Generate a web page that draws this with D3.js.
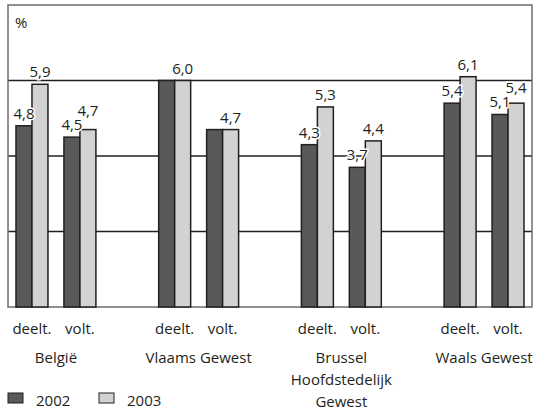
<!DOCTYPE html>
<html>
<head>
<meta charset="utf-8">
<script src="https://cdn.jsdelivr.net/npm/d3@7"></script>
<style>
  body { margin: 0; background: #fff; }
  text { font-family: "Open Sans", "Noto Sans", sans-serif; font-size: 15px; fill: #231f20; }
</style>
</head>
<body>
<div class="chart"></div>
<script>
let groups = [["België"], ["Vlaams Gewest"], ["Brussel", "Hoofdstedelijk", "Gewest"], ["Waals Gewest"]];
let types = ["deelt.", "volt."];
let years = ["2002", "2003"];
let values2002 = [4.8, 4.5, 6.0, 4.7, 4.3, 3.7, 5.4, 5.1];
let values2003 = [5.9, 4.7, 6.0, 4.7, 5.3, 4.4, 6.1, 5.4];
let gridTicks = [2, 4, 6];

let width = 534, height = 409;
let plotLeft = 8, plotRight = 532, plotTop = 5, plotBottom = 307;
let colors = { "2002": "#58595b", "2003": "#d1d2d4" };

let svg = d3.select(".chart").append("svg")
  .attr("width", width)
  .attr("height", height);

let x0 = d3.scaleBand()
  .domain(d3.range(groups.length))
  .range([plotLeft, plotRight])
  .paddingInner(0.44)
  .paddingOuter(0.056);

let x1 = d3.scaleBand()
  .domain(types)
  .range([0, x0.bandwidth()])
  .paddingInner(1 / 3);

let x2 = d3.scaleBand()
  .domain(years)
  .range([0, x1.bandwidth()]);

let y = d3.scaleLinear()
  .domain([0, 8])
  .range([plotBottom, plotTop]);

// flatten the data, one row per pair
let rows = [];
groups.forEach(function(g, gi) {
  types.forEach(function(t, ti) {
    let i = gi * types.length + ti;
    rows.push({ group: gi, type: t, v2002: values2002[i], v2003: values2003[i] });
  });
});

// grid
svg.selectAll(".grid")
  .data(gridTicks)
  .enter().append("line")
  .attr("x1", plotLeft).attr("x2", plotRight)
  .attr("y1", d => y(d)).attr("y2", d => y(d))
  .attr("stroke", "#231f20")
  .attr("stroke-width", 1.3);

// frame
svg.append("path")
  .attr("d", "M" + plotLeft + "," + y(0) + "V" + y(8) + "H" + plotRight + "V" + y(0) + "Z")
  .attr("fill", "none")
  .attr("stroke", "#6d6e70")
  .attr("stroke-width", 1.5);

svg.append("text")
  .attr("x", 15)
  .attr("y", 28)
  .text("%");

// bars
let pair = svg.selectAll(".pair")
  .data(rows)
  .enter().append("g")
  .attr("transform", d => "translate(" + (x0(d.group) + x1(d.type)) + ",0)");

pair.selectAll("rect")
  .data(d => years.map(yr => ({ year: yr, value: d["v" + yr] })))
  .enter().append("rect")
  .attr("x", d => x2(d.year))
  .attr("y", d => y(d.value))
  .attr("width", x2.bandwidth())
  .attr("height", d => y(0) - y(d.value))
  .attr("fill", d => colors[d.year])
  .attr("stroke", "#231f20")
  .attr("stroke-width", 1.5);

// value labels, lifting the 2003 label when it would collide
let labels = [];
rows.forEach(function(d) {
  let base = x0(d.group) + x1(d.type);
  let b02 = y(d.v2002) - 7;
  let b03 = y(d.v2003) - 7;
  if (d.v2002 !== d.v2003) {
    labels.push({ x: base + x2("2002") + x2.bandwidth() / 2, y: b02, v: d.v2002 });
    if (Math.abs(b03 - b02) < 15) b03 = Math.min(b03, b02 - 14);
  }
  labels.push({ x: base + x2("2003") + x2.bandwidth() / 2, y: b03, v: d.v2003 });
});

let fmt = v => d3.format(".1f")(v).replace(".", ",");

svg.selectAll(".val")
  .data(labels)
  .enter().append("text")
  .attr("class", "val")
  .attr("x", d => d.x)
  .attr("y", d => d.y)
  .attr("text-anchor", "middle")
  .attr("stroke", "#fff")
  .attr("stroke-width", 3)
  .attr("paint-order", "stroke")
  .text(d => fmt(d.v));

// category labels
svg.selectAll(".type")
  .data(rows)
  .enter().append("text")
  .attr("x", d => x0(d.group) + x1(d.type) + x1.bandwidth() / 2)
  .attr("y", 334)
  .attr("text-anchor", "middle")
  .text(d => d.type);

let gl = svg.selectAll(".group")
  .data(groups)
  .enter().append("text")
  .attr("text-anchor", "middle")
  .attr("transform", (d, i) => "translate(" + (x0(i) + x0.bandwidth() / 2) + ",363)");

gl.selectAll("tspan")
  .data(d => d)
  .enter().append("tspan")
  .attr("x", 0)
  .attr("y", (d, i) => i * 22)
  .text(d => d);

// legend
let leg = svg.selectAll(".legend")
  .data(years)
  .enter().append("g")
  .attr("transform", (d, i) => "translate(" + (8 + i * 91) + ",393)");

leg.append("rect")
  .attr("width", 15)
  .attr("height", 10)
  .attr("fill", d => colors[d])
  .attr("stroke", "#231f20")
  .attr("stroke-width", 1);

leg.append("text")
  .attr("x", 28)
  .attr("y", 13)
  .text(d => d);
</script>
</body>
</html>
